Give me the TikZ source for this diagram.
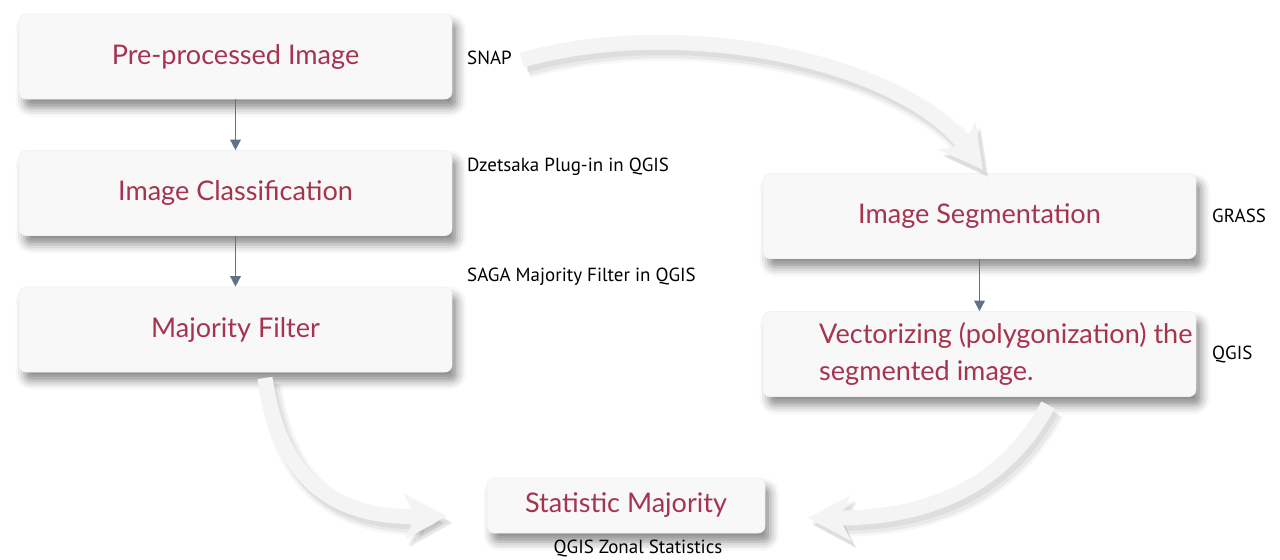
\documentclass[tikz,border=0pt]{standalone}
\usepackage{fontspec}
\setmainfont{Lato}
\newfontfamily\boxfont{Lato}
\newfontfamily\notefont{PT Sans}
\usetikzlibrary{arrows.meta,shadows.blur}
\definecolor{boxred}{RGB}{166,52,78}
\definecolor{boxfill}{RGB}{248,248,248}
\definecolor{linkgray}{RGB}{98,114,132}
\definecolor{flowwhite}{RGB}{244,244,244}

\tikzset{
  procbox/.style={rounded corners=4pt, fill=boxfill, draw=black!5,
    minimum width=8.66cm, minimum height=1.7cm,
    blur shadow={shadow xshift=3pt, shadow yshift=-5pt, shadow blur radius=5pt, shadow opacity=45},
    font=\boxfont\fontsize{15.4}{21}\selectfont, text=boxred},
  boxtext/.style={font=\boxfont\fontsize{15.4}{21}\selectfont, text=boxred},
  tool/.style={font=\notefont\fontsize{10.8}{12}\selectfont, text=black},
  link/.style={draw=linkgray, line width=0.9pt, -{Triangle[length=6pt,width=6pt]}},
  bigflow/.style={draw=flowwhite, line width=0.3cm,
    -{Stealth[length=0.85cm,width=0.9cm,inset=0.22cm]},
    preaction={draw=black, opacity=0.03, line width=0.46cm, transform canvas={shift={(3pt,-4pt)}}},
    preaction={draw=black, opacity=0.05, line width=0.36cm, transform canvas={shift={(3pt,-4pt)}}},
    preaction={draw=black, opacity=0.05, line width=0.3cm, transform canvas={shift={(2pt,-3pt)}}}}
}

\begin{document}
\begin{tikzpicture}[x=0.02cm,y=-0.02cm]
  \useasboundingbox (0,0) rectangle (1280,559);

  % left column
  \node[procbox] (pre) at (235.5,56.5) {Pre-processed Image};
  \node[procbox] (classif) at (235.5,193) {Image Classification};
  \node[procbox] (majfilt) at (235.5,329.5) {Majority Filter};

  % right column
  \node[procbox] (segm) at (979.5,216) {Image Segmentation};
  \node[procbox] (vect) at (979.5,354) {};
  \node[boxtext, align=left, anchor=west] (vecttext) at (813,354) {Vectorizing (polygonization) the\\segmented image.};

  % result
  \node[procbox, minimum width=5.56cm, minimum height=1.1cm] (stat) at (626,505.5) {Statistic Majority};

  % tools
  \node[tool, anchor=west] (snap) at (461,58) {SNAP};
  \node[tool, anchor=west] (dzet) at (461,167) {Dzetsaka Plug-in in QGIS};
  \node[tool, anchor=west] (saga) at (461,277) {SAGA Majority Filter in QGIS};
  \node[tool, anchor=west] (grass) at (1206,216) {GRASS};
  \node[tool, anchor=west] (qgis) at (1206,354) {QGIS};
  \node[tool] (zonal) at (638,548) {QGIS Zonal Statistics};

  \draw[link] (pre) -- (classif);
  \draw[link] (classif) -- (majfilt);
  \draw[link] (segm) -- (vect);

  % big curved arrows
  \coordinate (snapend) at (522,60);
  \coordinate (segtip) at (983,170);
  \coordinate (majend) at (265,378);
  \coordinate (majtip) at (447,516);
  \coordinate (vectend) at (1048,405);
  \coordinate (stattip) at (808,518);
  \draw[bigflow] (snapend) .. controls (680,15) and (900,60) .. (segtip);
  \draw[bigflow] (majend) .. controls (280,485) and (340,518) .. (majtip);
  \draw[bigflow] (vectend) .. controls (1005,485) and (930,518) .. (stattip);
\end{tikzpicture}
\end{document}
